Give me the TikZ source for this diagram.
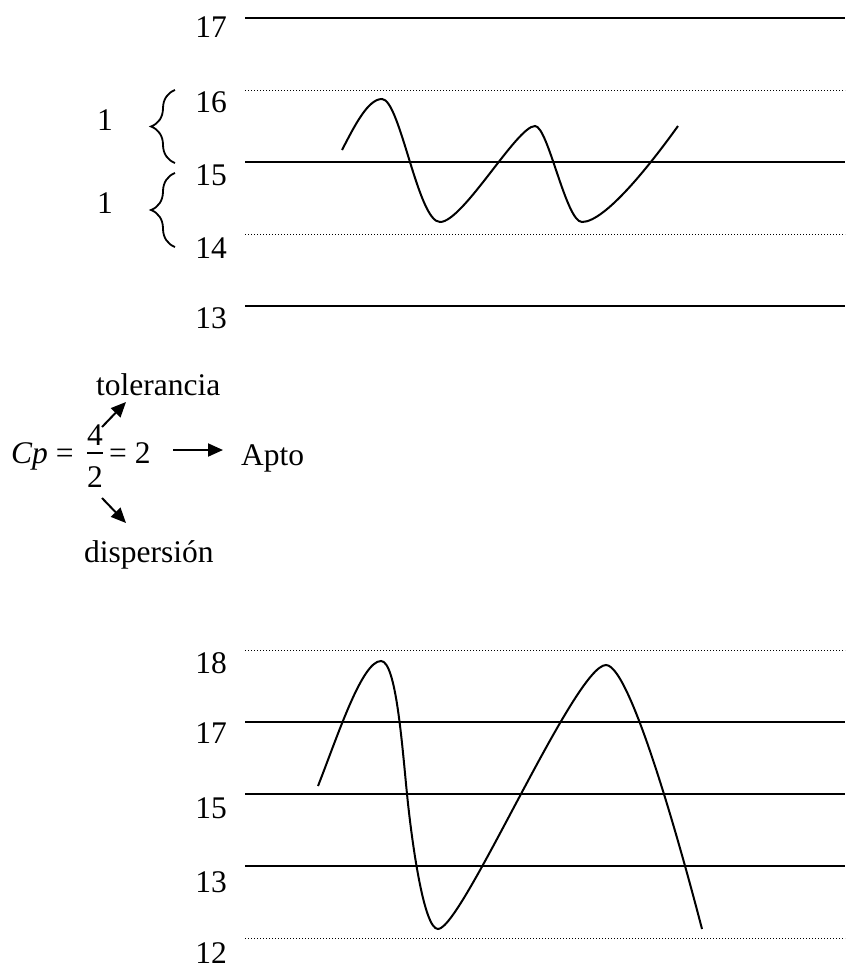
\documentclass[tikz,border=0pt]{standalone}
\usepackage{fontspec}
\setmainfont{Liberation Serif}
\usetikzlibrary{arrows.meta,decorations.pathreplacing}
\tikzset{
  solidline/.style={line width=2pt},
  dotline/.style={line width=1pt, dash pattern=on 1.1pt off 1.9pt},
  curve/.style={line width=2pt},
  lab/.style={anchor=base, inner sep=0pt, font=\fontsize{31.5}{36}\selectfont},
  txt/.style={inner sep=0pt, font=\fontsize{31.5}{36}\selectfont},
  bracestyle/.style={line width=1.8pt, decorate, decoration={brace, amplitude=24pt}},
  arr/.style={line width=2pt, -{Triangle[length=15pt,width=13pt]}}
}
\begin{document}
\begin{tikzpicture}[x=1pt,y=-1pt]
\useasboundingbox (0,0) rectangle (851,978);
% ---------- top chart ----------
\draw[solidline] (245,18) -- (845,18);
\draw[dotline] (245,90) -- (845,90);
\draw[solidline] (245,162) -- (845,162);
\draw[dotline] (245,234) -- (845,234);
\draw[solidline] (245,306) -- (845,306);
\node[lab] (t17) at (211,37) {17};
\node[lab] (t16) at (211,112) {16};
\node[lab] (t15) at (211,185) {15};
\node[lab] (t14) at (211,258) {14};
\node[lab] (t13) at (211,328) {13};
\draw[bracestyle] (175,163) -- (175,90);
\draw[bracestyle] (175,247) -- (175,173);
\node[lab] (one1) at (105,130) {1};
\node[lab] (one2) at (105,213) {1};
\draw[curve] (342,150) .. controls (355,125) and (368,99) .. (382,99)
  .. controls (400,99) and (418,222) .. (440,222)
  .. controls (463,222) and (517,126) .. (535,126)
  .. controls (548,126) and (566,222) .. (582,222)
  .. controls (605,222) and (650,165) .. (678,126);
% ---------- formula ----------
\node[txt, anchor=base west] (cp) at (11,463) {\textit{Cp} =};
\node[txt, anchor=base] (num) at (95,445) {4};
\node[txt, anchor=base] (den) at (95,487) {2};
\coordinate (barl) at (87,453);
\coordinate (barr) at (103,453);
\draw[line width=1.3pt] (barl) -- (barr);
\node[txt, anchor=base west] (eq2) at (109,463) {= 2};
\node[txt, anchor=base west] (apto) at (241,465) {Apto};
\node[txt, anchor=base west] (tol) at (96,395) {tolerancia};
\node[txt, anchor=base west] (disp) at (84,562) {dispersión};
\coordinate (a1s) at (173,450);
\coordinate (a1e) at (223,450);
\draw[arr] (a1s) -- (a1e);
\coordinate (a2s) at (102,427);
\coordinate (a2e) at (126,402);
\draw[arr] (a2s) -- (a2e);
\coordinate (a3s) at (102,498);
\coordinate (a3e) at (126,523);
\draw[arr] (a3s) -- (a3e);
% ---------- bottom chart ----------
\draw[dotline] (245,650) -- (845,650);
\draw[solidline] (245,722) -- (845,722);
\draw[solidline] (245,794) -- (845,794);
\draw[solidline] (245,866) -- (845,866);
\draw[dotline] (245,938) -- (845,938);
\node[lab] (b18) at (211,673) {18};
\node[lab] (b17) at (211,743) {17};
\node[lab] (b15) at (211,818) {15};
\node[lab] (b13) at (211,892) {13};
\node[lab] (b12) at (211,963) {12};
\draw[curve] (318,786) .. controls (338,735) and (362,661) .. (381,661)
  .. controls (396,661) and (402,744) .. (407,794)
  .. controls (412,844) and (424,929) .. (438,929)
  .. controls (462,929) and (575,665) .. (606,665)
  .. controls (632,665) and (688,875) .. (702,929);
\end{tikzpicture}
\end{document}
